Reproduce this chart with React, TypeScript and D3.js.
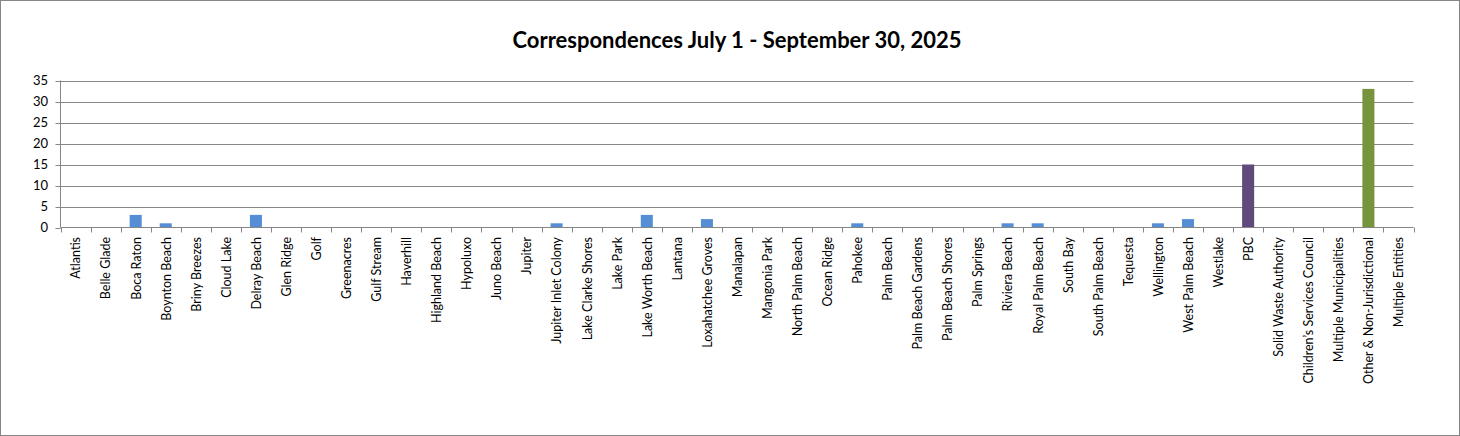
import React from "react";
import * as d3 from "d3";

const categories = [
  "Atlantis", "Belle Glade", "Boca Raton", "Boynton Beach", "Briny Breezes", "Cloud Lake",
  "Delray Beach", "Glen Ridge", "Golf", "Greenacres", "Gulf Stream", "Haverhill",
  "Highland Beach", "Hypoluxo", "Juno Beach", "Jupiter", "Jupiter Inlet Colony",
  "Lake Clarke Shores", "Lake Park", "Lake Worth Beach", "Lantana", "Loxahatchee Groves",
  "Manalapan", "Mangonia Park", "North Palm Beach", "Ocean Ridge", "Pahokee", "Palm Beach",
  "Palm Beach Gardens", "Palm Beach Shores", "Palm Springs", "Riviera Beach",
  "Royal Palm Beach", "South Bay", "South Palm Beach", "Tequesta", "Wellington",
  "West Palm Beach", "Westlake", "PBC", "Solid Waste Authority",
  "Children\u2019s Services Council", "Multiple Municipalities",
  "Other & Non-Jurisdictional", "Multiple Entities",
];

const values = [
  0, 0, 3, 1, 0, 0,
  3, 0, 0, 0, 0, 0,
  0, 0, 0, 0, 1,
  0, 0, 3, 0, 2,
  0, 0, 0, 0, 1, 0,
  0, 0, 0, 1,
  1, 0, 0, 0, 1,
  2, 0, 15, 0,
  0, 0,
  33, 0,
];

const barColors: Record<string, string> = {
  PBC: "#604A7B",
  "Other & Non-Jurisdictional": "#77933C",
};
const defaultColor = "#558ED5";

const yTicks = [0, 5, 10, 15, 20, 25, 30, 35];
const title = "Correspondences July 1 - September 30, 2025";

const W = 1460;
const H = 436;
const left = 60.5;
const right = 1413.5;
const top = 80.5;
const bottom = 227.5;

export default function App() {
  const x = d3.scaleBand<string>().domain(categories).range([left, right]).paddingInner(0).paddingOuter(0);
  const y = d3.scaleLinear().domain([0, 35]).range([bottom, top]);
  const bw = x.bandwidth() * 0.4;
  const grid = "#868686";
  const font = "Lato, 'Noto Sans', sans-serif";

  return (
    <svg width={W} height={H} style={{ position: "absolute", left: 0, top: 0, background: "#fff" }}>
      <rect x={0.5} y={0.5} width={W - 1} height={H - 1} fill="#fff" stroke={grid} strokeWidth={1} />
      <text x={737} y={48} textAnchor="middle" fontFamily={font} fontWeight="bold" fontSize={22} fill="#000">
        {title}
      </text>
      {yTicks.map((t) => (
        <g key={t}>
          {t > 0 && (
            <line x1={left} x2={right} y1={Math.round(y(t)) + 0.5} y2={Math.round(y(t)) + 0.5} stroke={grid} strokeWidth={1} />
          )}
          <line x1={left - 5} x2={left} y1={Math.round(y(t)) + 0.5} y2={Math.round(y(t)) + 0.5} stroke={grid} />
          <text x={48} y={y(t)} dy="0.35em" textAnchor="end" fontFamily={font} fontSize={13} fill="#000">
            {t}
          </text>
        </g>
      ))}
      {categories.map((c, i) => {
        const v = values[i];
        const cx = (x(c) as number) + x.bandwidth() / 2;
        return v > 0 ? (
          <rect
            key={c}
            x={cx - bw / 2}
            y={y(v)}
            width={bw}
            height={y(0) - y(v)}
            fill={barColors[c] ?? defaultColor}
          />
        ) : null;
      })}
      <line x1={left} x2={left} y1={top} y2={bottom} stroke={grid} />
      <line x1={left} x2={right} y1={bottom} y2={bottom} stroke={grid} />
      {categories.concat(["__end"]).map((c, i) => {
        const xx = Math.round(left + i * x.step()) + 0.5;
        return <line key={"t" + i} x1={xx} x2={xx} y1={bottom} y2={bottom + 5} stroke={grid} />;
      })}
      {categories.map((c) => {
        const cx = (x(c) as number) + x.bandwidth() / 2;
        return (
          <text
            key={"l" + c}
            transform={`translate(${cx + 0.5},${237}) rotate(-90)`}
            dy="0.35em"
            textAnchor="end"
            fontFamily={font}
            fontSize={12.5}
            fill="#000"
          >
            {c}
          </text>
        );
      })}
    </svg>
  );
}
